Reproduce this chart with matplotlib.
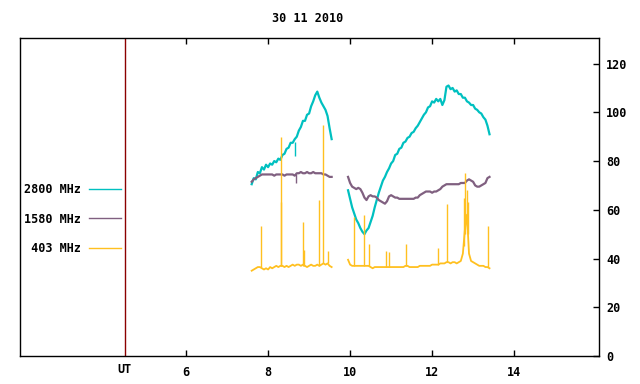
import numpy as np
import matplotlib
matplotlib.use('Agg')
import matplotlib.pyplot as plt
import matplotlib.transforms as mtransforms

plt.rcParams['font.family'] = 'DejaVu Sans Mono'
plt.rcParams['font.weight'] = 'bold'
plt.rcParams['font.size'] = 8.5

title = '30 11 2010'
labels = ['2800 MHz', '1580 MHz', ' 403 MHz']
colors = ['#00c0c0', '#806080', '#ffc020']

## first segment (about 7.60 - 9.55 UT)
f2800_a = [70.5, 73, 72.5, 75.5, 75, 77.5, 76.5, 78.5, 77.5, 79,
           78.5, 80, 79.5, 81, 80.5, 82.5, 83, 85, 85.5, 87.5,
           87.5, 89, 90, 92.5, 94, 96.5, 96.5, 99, 99.5, 102.5,
           104.5, 107, 108.5, 106, 104, 102.5, 101, 98.5, 93.5, 89]
f1580_a = [71.5, 72.5, 73, 73.5, 74, 74.5, 74.5, 74.5, 74.5, 74.5,
           74.5, 74, 74.5, 74.5, 74.5, 74.5, 74, 74.5, 74.5, 74.5,
           74.5, 74, 75, 75, 75.5, 75, 75, 75.5, 75, 75,
           75.5, 75, 75, 75, 75, 74.5, 74.5, 74, 73.5, 73.5]
f403_a = [35, 35.5, 36, 36.5, 36.5, 36, 35.5, 36, 35.5, 36.5,
          36, 36.5, 37, 36.5, 37, 37, 36.5, 37, 36.5, 37,
          37.5, 37, 37.5, 37.5, 37, 37.5, 37, 36.5, 37, 37.5,
          37, 37, 37.5, 37, 37.5, 38, 37.5, 38, 37, 36.5]

## second segment (about 9.95 - 13.40 UT)
f2800_b = [68, 64.5, 61, 58.5, 56, 54.5, 52.5, 51, 50, 51.5,
           52.5, 55, 57.5, 61, 64, 67, 69.5, 72, 73.5, 75.5,
           77, 79, 80, 82.5, 83, 85, 85.5, 87.5, 88, 89.5,
           90, 91.5, 92, 93.5, 94.5, 96, 97.5, 99, 100, 102,
           102.5, 104.5, 104, 105.5, 104.5, 105.5, 103, 105, 110.5, 111,
           109.5, 110, 108.5, 109, 107.5, 107.5, 106, 106, 104.5, 104,
           103, 103, 101.5, 101, 100, 99.5, 98, 97, 94.5, 91]
f1580_b = [73.5, 71, 69.5, 69, 68.5, 69, 68.5, 67, 65, 64,
           65.5, 66, 65.5, 65.5, 65, 64, 63.5, 63, 62.5, 63.5,
           65.5, 66, 65.5, 65, 65, 64.5, 64.5, 64.5, 64.5, 64.5,
           64.5, 64.5, 64.5, 65, 65, 66, 66.5, 67, 67.5, 67.5,
           67.5, 67, 67.5, 67.5, 68, 68.5, 69.5, 70, 70.5, 70.5,
           70.5, 70.5, 70.5, 70.5, 70.5, 71, 71, 71, 72, 72.5,
           72, 71.5, 70, 69.5, 69.5, 70, 70.5, 71, 73, 73.5]
f403_b = [39.5, 37.5, 37, 37, 37, 37, 37, 37, 37, 37,
          37, 36.5, 36, 36.5, 36.5, 36.5, 36.5, 36.5, 36.5, 36.5,
          36.5, 36.5, 36.5, 36.5, 36.5, 36.5, 36.5, 36.5, 37, 37,
          36.5, 36.5, 36.5, 36.5, 36.5, 37, 37, 37, 37, 37,
          37, 37.5, 37.5, 37.5, 37.5, 38, 38, 38, 38.5, 38.5,
          38, 38.5, 38.5, 38, 38.5, 39, 42, 52, 58, 42,
          39, 38.5, 38, 37.5, 37, 37, 37, 36.5, 36.5, 36]

## short bursts on 403 MHz: time, top, base
spike_t = [7.83, 8.31, 8.32, 8.84, 8.88, 9.23, 9.35, 9.45,
           10.10, 10.35, 10.45, 10.88, 10.94, 11.36, 12.15, 12.37,
           12.78, 12.81, 12.84, 12.87, 13.37]
spike_top = [53.5, 90, 63, 55, 43.5, 64, 95, 43,
             57, 58, 46, 43, 42.5, 46, 44.5, 62.5,
             65, 75, 68, 63, 53.5]
spike_base = [36.5, 37, 37, 37, 37, 37, 38, 38,
              37, 37, 37, 36.5, 36.5, 37, 37.5, 38.5,
              45, 50, 52, 50, 36.5]

# single-sample dips near 8.66 UT
dip_t = [8.66, 8.67]
dip_top = [88, 74.5]
dip_bot = [82, 71]

t_a = np.linspace(7.60, 9.55, len(f2800_a))
t_b = np.linspace(9.95, 13.40, len(f2800_b))

fig = plt.figure(figsize=(6.4, 3.84), dpi=100)
ax = fig.add_axes([20/640, 28/384, 579/640, 318/384])

series = [(f2800_a, f2800_b), (f1580_a, f1580_b), (f403_a, f403_b)]
widths = [1.6, 1.6, 1.3]
handles = []
for (a, b), c, lab, w in zip(series, colors, labels, widths):
    h, = ax.plot(t_a, a, color=c, lw=w, label=lab)
    ax.plot(t_b, b, color=c, lw=w)
    handles.append(h)

ax.vlines(spike_t, spike_base, spike_top, color=colors[2], lw=1.0)
ax.vlines(dip_t[0], dip_bot[0], dip_top[0], color=colors[0], lw=1.0)
ax.vlines(dip_t[1], dip_bot[1], dip_top[1], color=colors[1], lw=1.0)

ax.axvline(4.5, color='#8b0000', lw=1.0)

ax.set_xlim(1.95, 16.07)
ax.set_ylim(0, 130.5)
ax.set_xticks([6, 8, 10, 12, 14])
ax.tick_params(axis='x', direction='in', top=True, bottom=True, length=4, width=1, pad=7)
ax.yaxis.tick_right()
ax.set_yticks([0, 20, 40, 60, 80, 100, 120])
ax.tick_params(axis='y', direction='in', left=False, right=True, length=4, width=1, pad=5)
for s in ax.spines.values():
    s.set_linewidth(1.0)

trans = mtransforms.blended_transform_factory(ax.transData, ax.transAxes)
ax.text(4.5, -0.022, 'UT', transform=trans, ha='center', va='top')

fig.text(308/640, 1 - 18/384, title, ha='center', va='center')

leg = ax.legend(handles=handles, loc='upper left', bbox_to_anchor=(-0.006, 0.565),
                frameon=False, markerfirst=False, handlelength=2.7,
                handletextpad=0.7, labelspacing=1.37, borderaxespad=0.2)
for ln in leg.get_lines():
    ln.set_linewidth(1.0)

plt.savefig('out.png', dpi=100)
